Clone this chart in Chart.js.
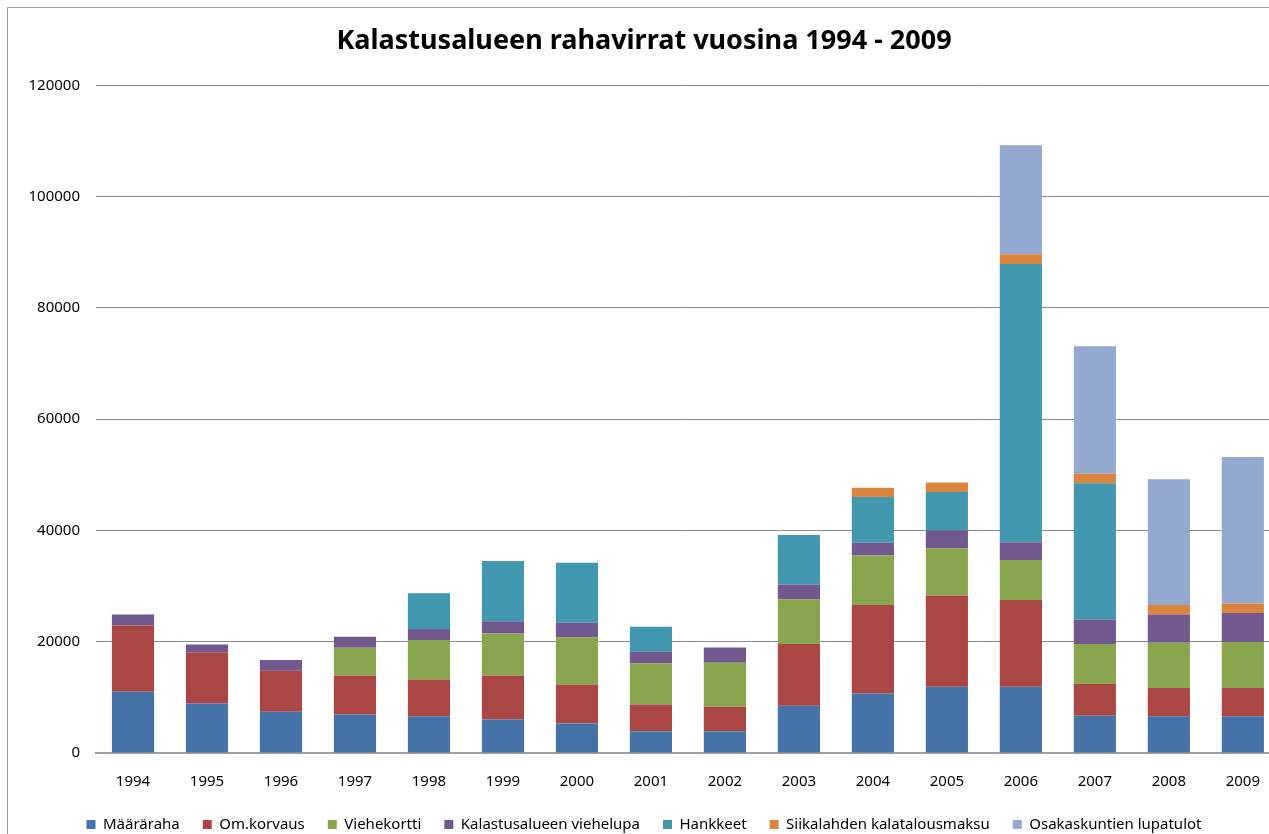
<!DOCTYPE html>
<html>
<head>
<meta charset="utf-8">
<script src="https://cdn.jsdelivr.net/npm/chart.js@4.4.0/dist/chart.umd.min.js"></script>
<style>
  html, body { margin: 0; padding: 0; background: #fff; overflow: hidden; }
  #wrap {
    position: absolute; left: 7px; top: 7px;
    width: 1272px; height: 834px;
    border-left: 1px solid #a0a0a0; border-top: 1px solid #a0a0a0;
  }
</style>
</head>
<body>
<div id="wrap"><canvas id="myChart"></canvas></div>
<script>
// Years on the x axis
const years = ['1994', '1995', '1996', '1997', '1998', '1999', '2000', '2001',
  '2002', '2003', '2004', '2005', '2006', '2007', '2008', '2009'];

// Series values (euro)
const maararaha = [11000, 8900, 7400, 6900, 6600, 6000, 5300, 3900, 3900, 8500, 10700, 11900, 11900, 6700, 6600, 6600];
const omKorvaus = [11900, 9200, 7400, 7000, 6600, 7900, 7000, 4800, 4400, 11100, 15900, 16400, 15600, 5700, 5100, 5100];
const viehekortti = [0, 0, 0, 5000, 7100, 7600, 8500, 7400, 7900, 8000, 8900, 8500, 7200, 7200, 8100, 8250];
const viehelupa = [2000, 1400, 1900, 2000, 2000, 2200, 2600, 2100, 2750, 2700, 2300, 3200, 3200, 4400, 5100, 5200];
const hankkeet = [0, 0, 0, 0, 6400, 10800, 10800, 4500, 0, 8900, 8200, 6900, 50000, 24500, 0, 0];
const siikalahti = [0, 0, 0, 0, 0, 0, 0, 0, 0, 0, 1700, 1700, 1750, 1700, 1700, 1700];
const osakaskunnat = [0, 0, 0, 0, 0, 0, 0, 0, 0, 0, 0, 0, 19600, 22900, 22600, 26350];

// Y axis
const yMax = 120000;
const yStep = 20000;

const font = 'Noto Sans';

function series(label, data, color) {
  return {
    label: label,
    data: data,
    backgroundColor: color,
    borderWidth: 0,
    barPercentage: 0.57,
    categoryPercentage: 1.0,
  };
}

const ctx = document.getElementById('myChart').getContext('2d');
new Chart(ctx, {
  type: 'bar',
  data: {
    labels: years,
    datasets: [
      series('Määräraha', maararaha, '#4572A7'),
      series('Om.korvaus', omKorvaus, '#AA4643'),
      series('Viehekortti', viehekortti, '#89A54E'),
      series('Kalastusalueen viehelupa', viehelupa, '#71588F'),
      series('Hankkeet', hankkeet, '#4198AF'),
      series('Siikalahden kalatalousmaksu', siikalahti, '#DB843D'),
      series('Osakaskuntien lupatulot', osakaskunnat, '#93A9CF'),
    ],
  },
  options: {
    responsive: true,
    maintainAspectRatio: false,
    animation: false,
    layout: { padding: 0 },
    plugins: {
      title: {
        display: true,
        text: 'Kalastusalueen rahavirrat vuosina 1994 - 2009',
        color: '#000',
        font: { family: font, size: 27, weight: 'bold' },
        padding: { top: 17, bottom: 28 },
      },
      legend: {
        position: 'bottom',
        labels: {
          color: '#000',
          font: { family: font, size: 15 },
          boxWidth: 9,
          boxHeight: 9,
          padding: 23,
        },
      },
      tooltip: { enabled: false },
    },
    scales: {
      x: {
        stacked: true,
        grid: { display: false, drawTicks: false },
        border: { color: '#a0a0a0', width: 2 },
        ticks: { color: '#000', font: { family: font, size: 15 }, padding: 20, maxRotation: 0 },
        afterFit: (scale) => { scale.height = 41; },
      },
      y: {
        stacked: true,
        min: 0,
        max: yMax,
        ticks: {
          stepSize: yStep,
          color: '#000',
          font: { family: font, size: 15 },
          padding: 16,
          callback: (v) => String(v),
        },
        grid: { color: '#8c8c8c', drawTicks: false },
        border: { display: false },
        afterFit: (scale) => { scale.width = 88; },
      },
    },
  },
});
</script>
</body>
</html>
